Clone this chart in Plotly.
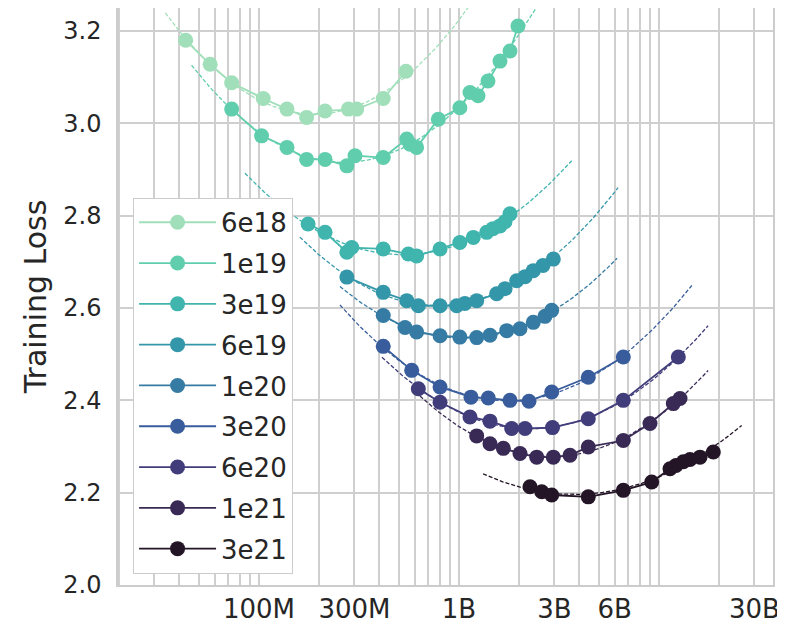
import numpy as np
import plotly.graph_objects as go

flops_labels = ["6e18", "1e19", "3e19", "6e19", "1e20", "3e20", "6e20", "1e21", "3e21"]
colors = ["#a0dfb9", "#60ceac", "#3fb5ad", "#3497a9", "#357ba3",
          "#395d9c", "#413d7b", "#382a54", "#231526"]

params_6e18 = [43e6, 57e6, 73e6, 105e6, 138e6, 173e6, 214e6, 280e6, 308e6, 418e6, 543e6]
loss_6e18 = [3.180, 3.128, 3.088, 3.054, 3.031, 3.013, 3.027, 3.031, 3.031, 3.054, 3.113]

params_1e19 = [73e6, 103e6, 138e6, 173e6, 214e6, 275e6, 302e6, 418e6, 548e6, 569e6, 614e6,
               788e6, 1.01e9, 1.135e9, 1.245e9, 1.396e9, 1.603e9, 1.799e9, 1.972e9]
loss_1e19 = [3.031, 2.973, 2.948, 2.922, 2.922, 2.908, 2.930, 2.926, 2.966, 2.955, 2.948,
             3.009, 3.034, 3.067, 3.060, 3.092, 3.135, 3.157, 3.211]

params_3e19 = [176e6, 214e6, 275e6, 291e6, 418e6, 558e6, 614e6, 804e6, 1.01e9, 1.179e9,
               1.375e9, 1.479e9, 1.603e9, 1.698e9, 1.799e9]
loss_3e19 = [2.782, 2.764, 2.721, 2.731, 2.728, 2.717, 2.713, 2.728, 2.742, 2.753,
             2.764, 2.772, 2.778, 2.787, 2.804]

params_6e19 = [275e6, 418e6, 548e6, 626e6, 804e6, 974e6, 1.07e9, 1.226e9, 1.543e9, 1.70e9,
               1.943e9, 2.14e9, 2.352e9, 2.63e9, 2.962e9]
loss_6e19 = [2.667, 2.634, 2.616, 2.605, 2.605, 2.605, 2.610, 2.616, 2.631, 2.642,
             2.659, 2.668, 2.681, 2.692, 2.706]

params_1e20 = [418e6, 537e6, 614e6, 804e6, 1.01e9, 1.226e9, 1.429e9, 1.732e9, 2.018e9,
               2.352e9, 2.69e9, 2.908e9]
loss_1e20 = [2.584, 2.558, 2.548, 2.540, 2.537, 2.536, 2.541, 2.551, 2.555,
             2.569, 2.582, 2.595]

params_3e20 = [418e6, 580e6, 804e6, 1.148e9, 1.401e9, 1.799e9, 2.239e9, 2.908e9, 4.43e9, 6.63e9]
loss_3e20 = [2.517, 2.465, 2.429, 2.407, 2.405, 2.400, 2.398, 2.418, 2.450, 2.494]

params_6e20 = [626e6, 804e6, 1.135e9, 1.429e9, 1.834e9, 2.138e9, 2.935e9, 4.43e9, 6.63e9, 12.49e9]
loss_6e20 = [2.425, 2.396, 2.364, 2.355, 2.339, 2.339, 2.341, 2.360, 2.400, 2.494]

params_1e21 = [1.226e9, 1.429e9, 1.666e9, 2.018e9, 2.447e9, 2.962e9, 3.589e9, 4.43e9,
               6.63e9, 9.016e9, 11.79e9, 12.74e9]
loss_1e21 = [2.323, 2.306, 2.296, 2.285, 2.277, 2.277, 2.281, 2.299,
             2.313, 2.350, 2.393, 2.404]

params_3e21 = [2.265e9, 2.592e9, 2.908e9, 4.43e9, 6.63e9, 9.194e9, 11.35e9, 12.16e9,
               13.23e9, 14.29e9, 16.03e9, 18.69e9]
loss_3e21 = [2.213, 2.202, 2.195, 2.191, 2.205, 2.223, 2.252, 2.259,
             2.267, 2.272, 2.277, 2.288]

# extent of each quadratic (in log params) fit line
fit_start = [34e6, 46e6, 85e6, 160e6, 254e6, 254e6, 412e6, 638e6, 1.32e9]
fit_end = [1.3e9, 2.8e9, 3.66e9, 6.24e9, 6.17e9, 14.6e9, 17.6e9, 17.6e9, 25.9e9]

xtick_vals = [1e8, 3e8, 1e9, 3e9, 6e9, 3e10]
xtick_text = ["100M", "300M", "1B", "3B", "6B", "30B"]
ytick_vals = [2.0, 2.2, 2.4, 2.6, 2.8, 3.0, 3.2]

series_params = [params_6e18, params_1e19, params_3e19, params_6e19, params_1e20,
                 params_3e20, params_6e20, params_1e21, params_3e21]
series_loss = [loss_6e18, loss_1e19, loss_3e19, loss_6e19, loss_1e20,
               loss_3e20, loss_6e20, loss_1e21, loss_3e21]

fig = go.Figure()

for i, lab in enumerate(flops_labels):
    n = np.array(series_params[i], dtype=float)
    l = np.array(series_loss[i], dtype=float)
    coef = np.polyfit(np.log10(n), l, 2)
    xs = np.logspace(np.log10(fit_start[i]), np.log10(fit_end[i]), 120)
    ys = np.polyval(coef, np.log10(xs))
    fig.add_trace(go.Scatter(
        x=xs, y=ys, mode="lines",
        line=dict(color=colors[i], width=1.3, dash="4px,2px"),
        showlegend=False, hoverinfo="skip", legendgroup=lab,
    ))

for i, lab in enumerate(flops_labels):
    order = np.argsort(series_params[i])
    n = np.array(series_params[i], dtype=float)[order]
    l = np.array(series_loss[i], dtype=float)[order]
    fig.add_trace(go.Scatter(
        x=n, y=l, mode="lines+markers", name=lab, legendgroup=lab,
        line=dict(color=colors[i], width=1.8),
        marker=dict(color=colors[i], size=15, line=dict(width=0)),
    ))

minor_vals = []
for e in range(7, 11):
    for k in range(1, 10):
        minor_vals.append(k * 10 ** e)

grid_col = "#cfcfcf"
fig.update_layout(
    width=777, height=617,
    margin=dict(l=110, r=12, t=0, b=40),
    paper_bgcolor="white", plot_bgcolor="white",
    font=dict(family="DejaVu Sans", size=24, color="#262626"),
    showlegend=True,
    legend=dict(
        x=0.023, y=0.671, xanchor="left", yanchor="top",
        bgcolor="white", bordercolor="#cccccc", borderwidth=1,
        font=dict(size=26, color="#262626"),
        tracegroupgap=4, itemwidth=77,
    ),
    xaxis=dict(
        type="log", range=[7.295, 10.57], automargin=False,
        tickvals=xtick_vals, ticktext=xtick_text,
        tickfont=dict(size=26),
        showgrid=True, gridcolor=grid_col, gridwidth=1.5,
        minor=dict(tickvals=minor_vals, showgrid=True, gridcolor=grid_col, gridwidth=1.5, ticks=""),
        showline=True, linecolor="#cccccc", linewidth=1.5, mirror=True,
        ticks="", zeroline=False,
    ),
    yaxis=dict(
        range=[2.0, 3.25], tickvals=ytick_vals, tickformat=".1f", automargin=False,
        tickfont=dict(size=24), ticklabelstandoff=10,
        showgrid=True, gridcolor=grid_col, gridwidth=1.5,
        showline=True, linecolor="#cccccc", linewidth=1.5, mirror=True,
        ticks="", zeroline=False,
        title=dict(text="Training Loss", standoff=8, font=dict(size=30)),
    ),
)

fig.write_html("out.html")
